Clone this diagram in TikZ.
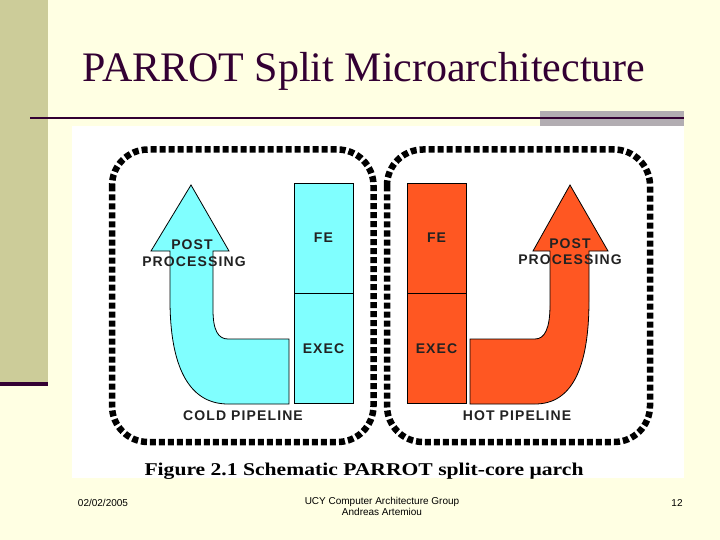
\documentclass[tikz,border=0pt]{standalone}
\usepackage{fontspec}
\setmainfont{Liberation Serif}
\setsansfont{Liberation Sans}
\newfontfamily\pipefont[LetterSpace=8]{Liberation Sans}
\usetikzlibrary{positioning}

\definecolor{slidebg}{HTML}{FFFFE3}
\definecolor{sidestrip}{HTML}{CCCC99}
\definecolor{slidedark}{HTML}{330033}
\definecolor{slidegray}{HTML}{B2ADB2}
\definecolor{coldcyan}{HTML}{80FFFF}
\definecolor{hotred}{HTML}{FF5722}
\definecolor{pipeink}{HTML}{222222}

\begin{document}
\begin{tikzpicture}[x=1pt, y=-1pt]
  \tikzstyle{stage}=[draw, line width=0.8pt, minimum width=59pt, minimum height=110pt,
                     inner sep=0pt, text=pipeink, font=\pipefont\bfseries\fontsize{14}{16}\selectfont]
  \tikzstyle{pipetext}=[inner sep=0pt, text=pipeink, font=\pipefont\bfseries\fontsize{14}{16}\selectfont]
  \tikzstyle{core}=[draw=black, line width=6.5pt, dash pattern=on 6pt off 3pt,
                    rounded corners=36pt]
  \tikzstyle{flowarrow}=[draw=black, line width=0.8pt]
  \tikzstyle{footer}=[inner sep=0pt, font=\sffamily\fontsize{10}{11.5}\selectfont]

  % Fundo do slide
  \fill[slidebg] (0,0) rectangle (720,540);
  \useasboundingbox (0,0) rectangle (720,540);
  \fill[sidestrip] (0,0) rectangle (48,382);
  \fill[slidedark] (0,382) rectangle (48,386);

  % Titulo
  \node[anchor=base, inner sep=0pt, text=slidedark,
        font=\fontsize{42}{48}\selectfont] (title) at (364,82) {PARROT Split Microarchitecture};
  \fill[slidegray] (540,111) rectangle (684,126);
  \fill[slidedark] (30,117) rectangle (684,119.5);

  % Area da figura
  \fill[white] (72,126) rectangle (684,478);

  % Nucleos (bordas pontilhadas)
  \draw[core] (112,149.5) rectangle (373.5,442);
  \draw[core] (387,149.5) rectangle (650,442);

  % Pipeline frio
  \node[stage, fill=coldcyan] (coldfe) at (323.5,238) {FE};
  \node[stage, fill=coldcyan, below=0pt of coldfe] (coldexec) {EXEC};
  \draw[flowarrow, fill=coldcyan] (191,185) -- (229,251) -- (213,251) -- (213,310)
    .. controls (213,330) and (218,339) .. (228,339) -- (289,339) -- (289,404)
    -- (228,404) .. controls (188,404) and (170,365) .. (170,300)
    -- (170,251) -- (151,251) -- cycle;
  \node[pipetext] (coldpost) at (192,245) {POST};
  \node[pipetext] (coldproc) at (194,262) {PROCESSING};
  \node[pipetext] (coldname) at (243,416) {COLD PIPELINE};

  % Pipeline quente
  \node[stage, fill=hotred] (hotfe) at (436.5,238) {FE};
  \node[stage, fill=hotred, below=0pt of hotfe] (hotexec) {EXEC};
  \draw[flowarrow, fill=hotred] (570,185) -- (608,251) -- (589,251) -- (589,300)
    .. controls (589,368) and (572,404) .. (535,404) -- (470,404) -- (470,339)
    -- (535,339) .. controls (545,339) and (550,328) .. (550,305)
    -- (550,251) -- (533,251) -- cycle;
  \node[pipetext] (hotpost) at (570,244) {POST};
  \node[pipetext] (hotproc) at (570,260) {PROCESSING};
  \node[pipetext] (hotname) at (517,416) {HOT PIPELINE};

  % Legenda
  \node[anchor=base, inner sep=0pt, xscale=1.2,
        font=\bfseries\fontsize{18}{20}\selectfont] (caption) at (364,475)
        {Figure 2.1 Schematic PARROT split-core μarch};

  % Rodape
  \node[footer] (date) at (103,503) {02/02/2005};
  \node[footer, align=center, anchor=north] (group) at (382,497)
        {UCY Computer Architecture Group\\Andreas Artemiou};
  \node[footer] (page) at (677,503) {12};
\end{tikzpicture}
\end{document}
